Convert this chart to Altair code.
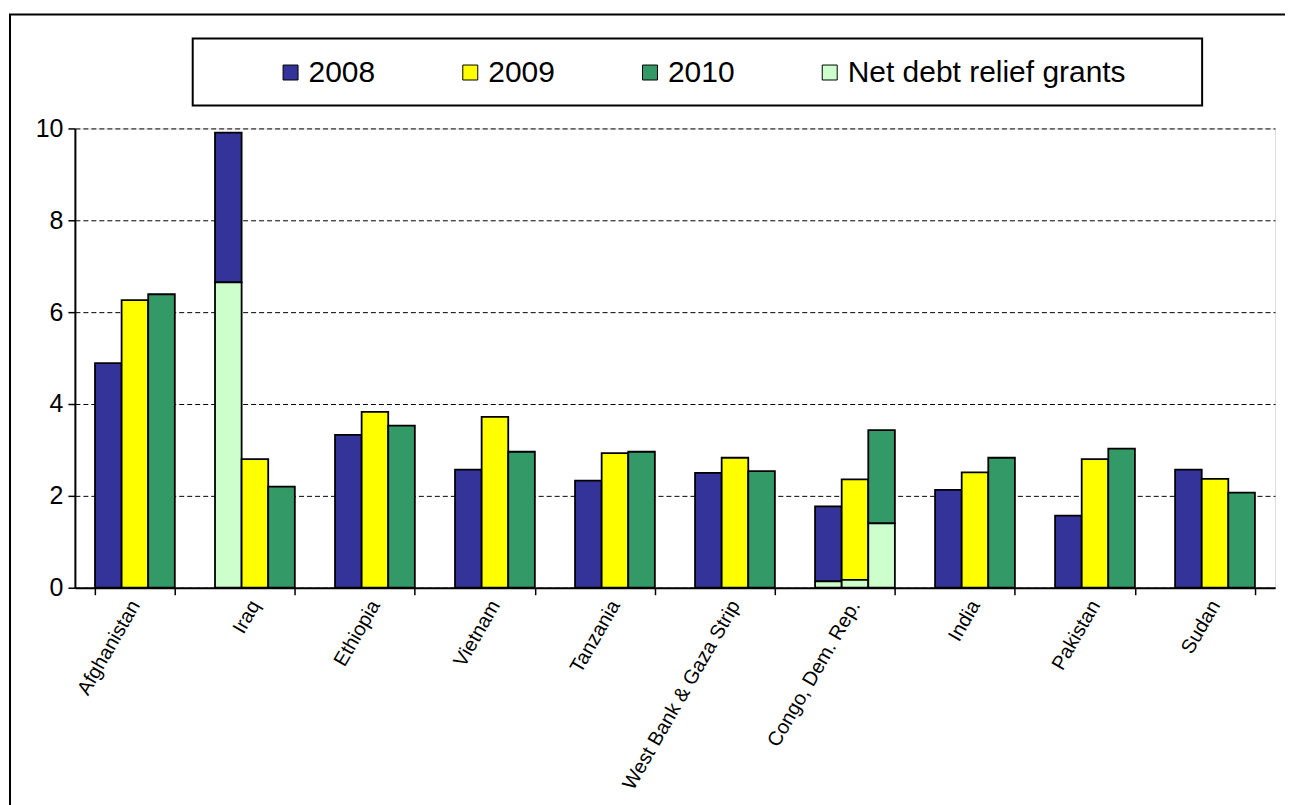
import altair as alt
import pandas as pd

countries = ["Afghanistan", "Iraq", "Ethiopia", "Vietnam", "Tanzania",
             "West Bank & Gaza Strip", "Congo, Dem. Rep.", "India", "Pakistan", "Sudan"]
years = ["2008", "2009", "2010"]
v2008 = [4.89, 9.91, 3.33, 2.57, 2.33, 2.50, 1.77, 2.13, 1.57, 2.57]
v2009 = [6.26, 2.80, 3.83, 3.72, 2.93, 2.83, 2.36, 2.51, 2.80, 2.37]
v2010 = [6.39, 2.20, 3.53, 2.96, 2.96, 2.54, 3.43, 2.83, 3.03, 2.07]
debt2008 = [0, 6.65, 0, 0, 0, 0, 0.14, 0, 0, 0]
debt2009 = [0, 0, 0, 0, 0, 0, 0.17, 0, 0, 0]
debt2010 = [0, 0, 0, 0, 0, 0, 1.40, 0, 0, 0]
series_names = ["2008", "2009", "2010", "Net debt relief grants"]
series_colors = ["#333399", "#FFFF00", "#339966", "#CCFFCC"]

rows = []
for yr, totals, debts in zip(years, [v2008, v2009, v2010], [debt2008, debt2009, debt2010]):
    for c, t, d in zip(countries, totals, debts):
        rows.append({"country": c, "year": yr, "series": yr, "y0": d, "y1": t})
        if d > 0:
            rows.append({"country": c, "year": yr, "series": "Net debt relief grants", "y0": 0, "y1": d})
df = pd.DataFrame(rows)

FONT = "Liberation Sans"
W, H = 1202, 460
OX, OY = 75, 128  # plot origin on the page

one = pd.DataFrame({"k": [0]})

frame = alt.Chart(one).mark_rect(fillOpacity=0, stroke="black", strokeWidth=2).encode(
    x=alt.value(10 - OX), x2=alt.value(1300 - OX),
    y=alt.value(14 - OY), y2=alt.value(900 - OY),
)

legend_box = alt.Chart(one).mark_rect(fill="white", stroke="black", strokeWidth=2).encode(
    x=alt.value(193 - OX), x2=alt.value(1204 - OX),
    y=alt.value(38 - OY), y2=alt.value(105 - OY),
)

bars = alt.Chart(df).mark_bar(stroke="black", strokeWidth=1.8).encode(
    x=alt.X("country:N", sort=countries, title=None,
            scale=alt.Scale(paddingInner=0.335, paddingOuter=0.1675),
            axis=alt.Axis(labelAngle=-60, labelAlign="right", labelBaseline="middle",
                          labelFontSize=20, labelFont=FONT, labelColor="black",
                          labelPadding=7, tickBand="extent", tickSize=7,
                          tickColor="black", tickWidth=1.5, domainColor="black",
                          domainWidth=2, grid=False, labelLimit=400)),
    xOffset=alt.XOffset("year:N", sort=years, scale=alt.Scale(paddingInner=0, paddingOuter=0)),
    y=alt.Y("y1:Q", title=None,
            scale=alt.Scale(domain=[0, 10], nice=False),
            axis=alt.Axis(values=[0, 2, 4, 6, 8, 10], labelFontSize=25, labelFont=FONT,
                          labelColor="black", labelPadding=5, tickSize=7,
                          tickColor="black", tickWidth=1.5, domainColor="black",
                          domainWidth=2, grid=True, gridColor="black",
                          gridDash=[5, 3], gridWidth=1)),
    y2="y0:Q",
    color=alt.Color("series:N",
                    scale=alt.Scale(domain=series_names, range=series_colors),
                    legend=alt.Legend(title=None, orient="none", direction="horizontal",
                                      legendX=276 - OX, legendY=57 - OY,
                                      labelFontSize=30, labelFont=FONT, labelColor="black",
                                      labelLimit=500, labelOffset=3,
                                      symbolType="square", symbolSize=225,
                                      symbolStrokeColor="black", symbolStrokeWidth=1,
                                      symbolOpacity=1, columnPadding=80, padding=0)),
)

chart = alt.layer(frame, legend_box, bars).properties(
    width=W, height=H,
    padding={"left": OX - 8, "top": OY - 8, "right": 10, "bottom": 805 - 8 - (OY - 8) - H},
    autosize=alt.AutoSizeParams(type="none"),
).configure_view(stroke="#808080", strokeWidth=1.5).configure(background="white")

chart.save("out.html", embed_options={"renderer": "svg", "actions": False})
